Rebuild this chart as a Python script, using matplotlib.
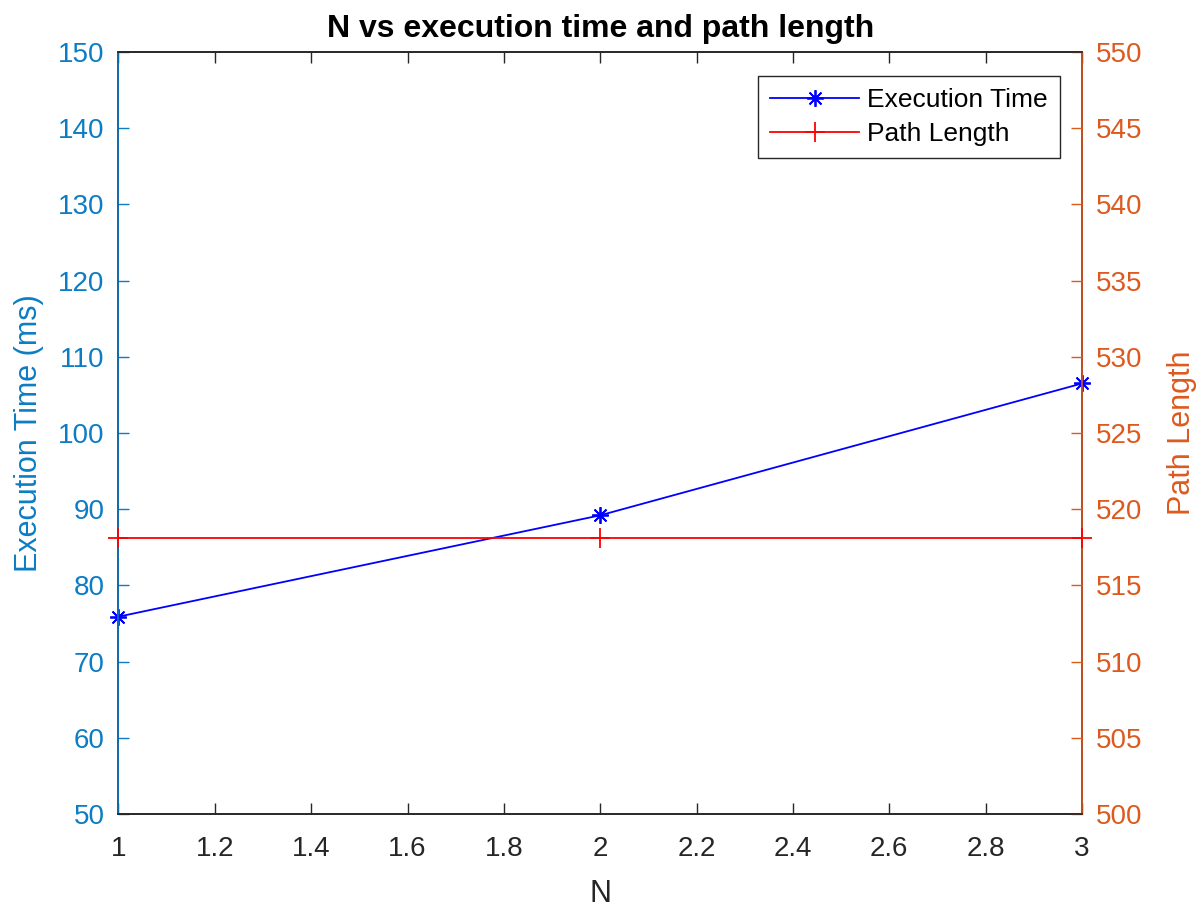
import matplotlib.pyplot as plt

plt.rcParams['font.family'] = ['Liberation Sans', 'DejaVu Sans']

# data
n_values = [1, 2, 3]
exec_time = [75.9, 89.2, 106.5]
path_length = [518.1, 518.1, 518.1]

left_color = '#0C7CC4'
right_color = '#DC5A1E'
dark = '#262626'

fig = plt.figure(figsize=(12.03, 9.07), dpi=100)
ax = fig.add_axes([0.0985, 0.1025, 0.8009, 0.8402])
ax2 = ax.twinx()

l1, = ax.plot(n_values, exec_time, color='blue', lw=1.3, marker=(8, 2, 0),
              markersize=12, markeredgewidth=1.3, label='Execution Time',
              clip_on=False, zorder=5)
l2, = ax2.plot(n_values, path_length, color='red', lw=1.3, marker='+',
               markersize=15, markeredgewidth=1.3, label='Path Length',
               clip_on=False, zorder=5)

ax.set_xlim(1, 3)
ax.set_ylim(50, 150)
ax2.set_ylim(500, 550)
ax.set_xticks([1, 1.2, 1.4, 1.6, 1.8, 2, 2.2, 2.4, 2.6, 2.8, 3])
ax.set_xticklabels(['1', '1.2', '1.4', '1.6', '1.8', '2', '2.2', '2.4', '2.6', '2.8', '3'])
ax.set_yticks(range(50, 151, 10))
ax2.set_yticks(range(500, 551, 5))

for a in (ax, ax2):
    a.tick_params(direction='in', length=8, width=1, labelsize=20)
    for s in a.spines.values():
        s.set_linewidth(1.2)
ax.tick_params(axis='x', colors=dark, top=True, pad=16)
ax.tick_params(axis='y', colors=left_color, pad=10)
ax2.tick_params(axis='y', colors=right_color, pad=10)
ax.spines['top'].set_color(dark)
ax.spines['bottom'].set_color(dark)
ax2.spines['top'].set_color(dark)
ax2.spines['bottom'].set_color(dark)
ax2.spines['left'].set_color(left_color)
ax2.spines['right'].set_color(right_color)

ax.set_xlabel('N', fontsize=22, color=dark, labelpad=12)
ax.set_ylabel('Execution Time (ms)', fontsize=22, color=left_color, labelpad=10)
ax2.set_ylabel('Path Length', fontsize=22, color=right_color, labelpad=18)
ax.set_title('N vs execution time and path length', fontsize=23,
             fontweight='bold', color='black', pad=11)

leg = ax2.legend(handles=[l1, l2], loc='upper right', fontsize=19,
                 fancybox=False, edgecolor=dark, framealpha=1,
                 bbox_to_anchor=(0.977, 0.9685), borderaxespad=0,
                 handlelength=3.4, borderpad=0.45, labelspacing=0.4,
                 handletextpad=0.3)
leg.get_frame().set_linewidth(1.0)

fig.savefig('out.png', dpi=100)
